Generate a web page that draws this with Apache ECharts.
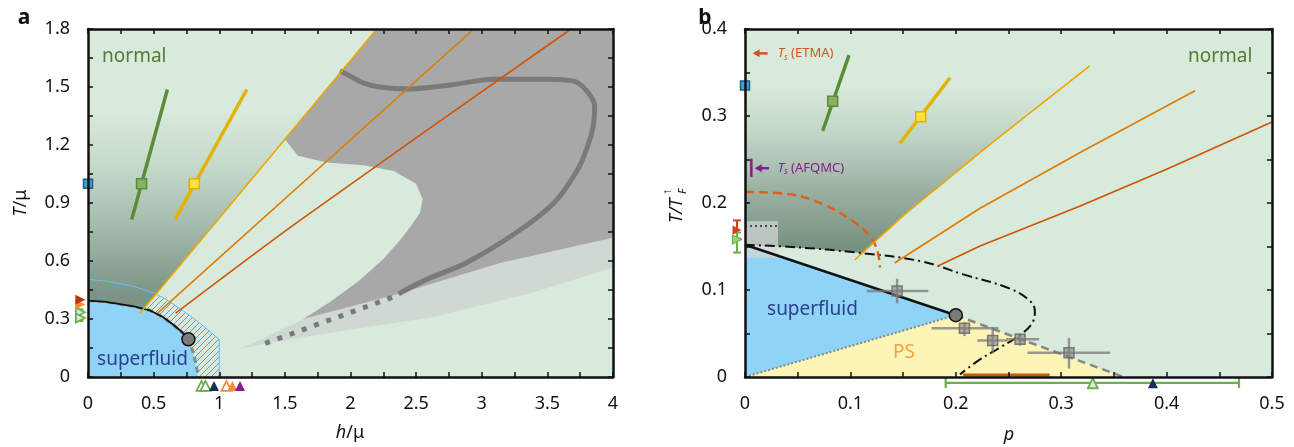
<!DOCTYPE html>
<html><head><meta charset="utf-8">
<script src="https://cdn.jsdelivr.net/npm/echarts@6/dist/echarts.min.js"></script>
<style>html,body{margin:0;padding:0;background:#fff}#c{width:1294px;height:447px}</style>
</head><body><div id="c"></div>
<script>
// ================= Panel a data (h/mu, T/mu) =================
const aXLabels = [0, 0.5, 1, 1.5, 2, 2.5, 3, 3.5, 4];
const aYLabels = [0, 0.3, 0.6, 0.9, 1.2, 1.5, 1.8];
const aGradient = [[0,0.3],[0,1.8],[2.2,1.8],[0.396,0.33]];
const aLightGray = [[1.158,0.147],[1.31,0.19],[1.64,0.30],[2.37,0.43],[3.14,0.59],[4,0.72],[4,0.566],[3.39,0.437],[2.63,0.31],[1.615,0.204]];
const aDarkGray = [[1.5,1.23],[2.2,1.8],[4,1.8],[4,0.72],[3.14,0.59],[2.37,0.43],[1.64,0.30],
  [1.85,0.39],[2.07,0.50],[2.25,0.61],[2.38,0.71],[2.47,0.79],[2.53,0.85],[2.55,0.92],[2.50,1.0],[2.33,1.065],[2.1,1.095],[1.82,1.11],[1.6,1.145]];
const aHatch = [[0,0],[0,0.505],[0.15,0.495],[0.345,0.47],[0.5,0.435],[0.6,0.40],[0.72,0.345],[0.85,0.28],[0.93,0.235],[1.0,0.195],[1.0,0]];
const aSuperfluid = [[0,0],[0,0.395],[0.12,0.39],[0.22,0.38],[0.35,0.365],[0.47,0.345],[0.57,0.31],[0.65,0.27],[0.72,0.23],[0.765,0.195],[0.8,0.13],[0.825,0.06],[0.84,0]];
const aBoundarySolid = [[0,0.395],[0.12,0.39],[0.22,0.38],[0.35,0.365],[0.47,0.345],[0.57,0.31],[0.65,0.27],[0.72,0.23],[0.765,0.195]];
const aCritical = [[0.765,0.195]];
const aThickCurve = [[1.92,1.585],[2.0,1.555],[2.1,1.52],[2.22,1.50],[2.45,1.49],[2.76,1.51],[3.09,1.54],[3.49,1.54],[3.70,1.53],[3.80,1.48],[3.86,1.40],[3.85,1.30],[3.80,1.18],[3.72,1.06],[3.55,0.90],[3.27,0.75],[2.88,0.59],[2.58,0.505],[2.366,0.43]];
const aDottedCurve = [[1.35,0.174],[2.33,0.415]];
const aOrange1 = [[0.396,0.33],[2.2,1.8]];
const aOrange2 = [[0.53,0.33],[2.94,1.8]];
const aOrange3 = [[0.668,0.33],[1.615,0.81],[3.68,1.8]];
const aGreenLine = [[0.333,0.815],[0.605,1.487]];
const aGreenPoint = [[0.408,1.0]];
const aYellowLine = [[0.663,0.815],[1.21,1.487]];
const aYellowPoint = [[0.81,1.0]];
const aBluePoint = [[0,1.0]];
const aLeftRed = [[-0.058,0.40]];
const aLeftOrange = [[-0.058,0.375]];
const aLeftGreen = [[-0.058,0.335],[-0.058,0.305]];
const aLeftGreenErr = [[-0.058,0.32,-0.058,-0.058,0.29,0.35]];
const aBottomGreen = [[0.865,-0.046],[0.895,-0.046]];
const aBottomNavy = [[0.96,-0.046]];
const aBottomOrangeOpen = [[1.055,-0.046]];
const aBottomOrange = [[1.10,-0.046]];
const aBottomPurple = [[1.158,-0.046]];
const aTexts = [[0.107,1.657,'normal','#557a30'],[0.069,0.092,'superfluid','#2c3f8f']];

// ================= Panel b data (p, T/T_F) =================
const bXLabels = [0, 0.1, 0.2, 0.3, 0.4, 0.5];
const bYLabels = [0, 0.1, 0.2, 0.3, 0.4];
const bGradient = [[0,0.152],[0,0.4],[0.37,0.4],[0.327,0.3575],[0.2325,0.2675],[0.1535,0.189],[0.112,0.1425],[0.06,0.148]];
const bSuperfluid = [[0,0],[0,0.152],[0.2,0.071]];
const bPS = [[0,0],[0.2,0.071],[0.359,0]];
const bSolid = [[0,0.152],[0.2,0.071]];
const bDotted = [[0,0],[0.2,0.071]];
const bGrayDashed = [[0.2,0.071],[0.359,0]];
const bCritical = [[0.2,0.071]];
const bDashDot = [[0,0.152],[0.05,0.149],[0.106,0.143],[0.166,0.1333],[0.207,0.118],[0.2514,0.1016],[0.2704,0.0874],[0.275,0.0759],[0.2735,0.0644],[0.264,0.051],[0.242,0.0338],[0.223,0.0203],[0.204,0.003]];
const bOrangeDashed = [[0,0.2127],[0.0427,0.21],[0.074,0.1985],[0.1,0.181],[0.1186,0.162],[0.126,0.143],[0.128,0.126]];
const bGrayBox = [[0,0.137],[0.0313,0.137],[0.0313,0.179],[0,0.179]];
const bBoxDotted = [[0,0.1736],[0.0313,0.1736]];
const bOrange1 = [[0.104,0.1345],[0.1535,0.189],[0.2325,0.2675],[0.327,0.3575]];
const bOrange2 = [[0.142,0.131],[0.223,0.194],[0.321,0.26],[0.427,0.329]];
const bOrange3 = [[0.183,0.1276],[0.223,0.1506],[0.318,0.1966],[0.4,0.2388],[0.5,0.293]];
const bBottomOrange = [[0.207,0.0023],[0.289,0.0023]];
const bGreenLine = [[0.0737,0.2828],[0.0987,0.37]];
const bGreenPoint = [[0.0832,0.317]];
const bYellowLine = [[0.147,0.2686],[0.1945,0.344]];
const bYellowPoint = [[0.1667,0.299]];
const bBluePoint = [[0,0.335]];
// [x, y, xlo, xhi, ylo, yhi]
const bGrayPoints = [
  [0.1443,0.0989,0.1154,0.1739,0.0847,0.113],
  [0.2082,0.056,0.177,0.2405,0.047,0.063],
  [0.235,0.042,0.2204,0.249,0.027,0.057],
  [0.261,0.0434,0.248,0.279,0.036,0.050],
  [0.3074,0.028,0.268,0.3465,0.0097,0.045]
];
const bBottomGreenErr = [[0.33,-0.0068,0.1904,0.4687,-0.0068,-0.0068]];
const bBottomGreen = [[0.33,-0.0072]];
const bBottomNavy = [[0.387,-0.0072]];
const bLeftRed = [[-0.0076,0.169]];
const bLeftRedErr = [[-0.0076,0.169,-0.0076,-0.0076,0.159,0.18]];
const bLeftGreen = [[-0.0076,0.158]];
const bLeftGreenErr = [[-0.0076,0.158,-0.0076,-0.0076,0.143,0.166]];
const bPurpleBar = [[0.006,0.24,0.006,0.006,0.23,0.251]];
// arrows: [xTail, y, xTip]
const bArrowETMA = [[0.0215,0.372,0.0072]];
const bArrowAFQMC = [[0.0228,0.240,0.0092]];
const bTexts = [[0.0209,0.0778,'superfluid','#2c3f8f'],[0.1404,0.0284,'PS','#f5a04a'],[0.4203,0.3686,'normal','#557a30']];
const bTsTexts = [[0.031,0.372,' (ETMA)','#d0581a'],[0.031,0.240,' (AFQMC)','#8b1a8b']];

// ================= helpers =================
const FONT = 'Noto Sans';
const BG = '#d8eadc';

const hatch = document.createElement('canvas');
hatch.width = 6; hatch.height = 6;
(function(){const g = hatch.getContext('2d'); g.strokeStyle = '#4b9fe6'; g.lineWidth = 1;
  g.beginPath(); g.moveTo(0,6); g.lineTo(6,0); g.moveTo(-1,1); g.lineTo(1,-1); g.moveTo(5,7); g.lineTo(7,5); g.stroke();})();

function ax(gi){ return {xAxisIndex: gi*2, yAxisIndex: gi*2}; }

function poly(gi, pts, styleFn, z){
  return Object.assign({type:'custom', z:z, silent:true, clip:true, data:pts,
    renderItem:function(params, api){
      if(params.dataIndex!==0) return null;
      const p = pts.map(d=>api.coord(d));
      return {type:'polygon', shape:{points:p}, style:styleFn(api)};
    }}, ax(gi));
}
function line(gi, pts, color, width, type, z, smooth){
  return Object.assign({type:'line', data:pts, showSymbol:false, symbol:'none', silent:true, z:z||6, smooth:smooth||false,
    lineStyle:{color:color, width:width, type:type||'solid', cap:'butt'}}, ax(gi));
}
function scat(gi, pts, symbol, size, fill, border, bw, rot, z){
  return Object.assign({type:'scatter', data:pts, symbol:symbol, symbolSize:size, symbolRotate:rot||0, silent:true, clip:false, z:z||10,
    itemStyle:{color:fill, borderColor:border, borderWidth:bw||0, opacity:1}}, ax(gi));
}
function err(gi, rows, color, width, cap, z){
  return Object.assign({type:'custom', data:rows, silent:true, clip:false, z:z||9,
    renderItem:function(params, api){
      const x=api.value(0), y=api.value(1), xlo=api.value(2), xhi=api.value(3), ylo=api.value(4), yhi=api.value(5);
      const ch=[]; const st={stroke:color, lineWidth:width};
      if(xhi>xlo){ const a=api.coord([xlo,y]), b=api.coord([xhi,y]);
        ch.push({type:'line', shape:{x1:a[0],y1:a[1],x2:b[0],y2:b[1]}, style:st});
        if(cap){ ch.push({type:'line', shape:{x1:a[0],y1:a[1]-cap,x2:a[0],y2:a[1]+cap}, style:st});
                 ch.push({type:'line', shape:{x1:b[0],y1:b[1]-cap,x2:b[0],y2:b[1]+cap}, style:st}); } }
      if(yhi>ylo){ const a=api.coord([x,ylo]), b=api.coord([x,yhi]);
        ch.push({type:'line', shape:{x1:a[0],y1:a[1],x2:b[0],y2:b[1]}, style:st});
        if(cap){ ch.push({type:'line', shape:{x1:a[0]-cap,y1:a[1],x2:a[0]+cap,y2:a[1]}, style:st});
                 ch.push({type:'line', shape:{x1:b[0]-cap,y1:b[1],x2:b[0]+cap,y2:b[1]}, style:st}); } }
      return {type:'group', children:ch};
    }}, ax(gi));
}
function arrow(gi, rows, color){
  return Object.assign({type:'custom', data:rows, silent:true, clip:false, z:11,
    renderItem:function(params, api){
      const t=api.coord([api.value(0),api.value(1)]), h=api.coord([api.value(2),api.value(1)]);
      return {type:'group', children:[
        {type:'line', shape:{x1:t[0],y1:t[1],x2:h[0]+5,y2:h[1]}, style:{stroke:color,lineWidth:2.5}},
        {type:'polygon', shape:{points:[[h[0],h[1]],[h[0]+7,h[1]-4],[h[0]+7,h[1]+4]]}, style:{fill:color}}]};
    }}, ax(gi));
}
function texts(gi, rows, size){
  return Object.assign({type:'custom', data:rows.map(r=>[r[0],r[1]]), silent:true, clip:false, z:12,
    renderItem:function(params, api){
      const r=rows[params.dataIndex]; const p=api.coord([r[0],r[1]]);
      return {type:'text', x:p[0], y:p[1], style:{text:r[2], fill:r[3], font:size+'px "'+FONT+'"', align:'left', verticalAlign:'middle'}};
    }}, ax(gi));
}
function tsTexts(gi, rows){
  return Object.assign({type:'custom', data:rows.map(r=>[r[0],r[1]]), silent:true, clip:false, z:12,
    renderItem:function(params, api){
      const r=rows[params.dataIndex]; const p=api.coord([r[0],r[1]]);
      return {type:'text', x:p[0], y:p[1], style:{text:'{i|T}{s|s}{n|'+r[2]+'}', fill:r[3], align:'left', verticalAlign:'middle',
        rich:{i:{fontFamily:FONT,fontStyle:'italic',fontSize:13,fill:r[3],lineHeight:16},
              s:{fontFamily:FONT,fontStyle:'italic',fontSize:8,fill:r[3],lineHeight:16,verticalAlign:'bottom'},
              n:{fontFamily:FONT,fontSize:13,fill:r[3],lineHeight:16}}}};
    }}, ax(gi));
}
function fmt(step){ return function(v){ const k=Math.round(v/step); if(Math.abs(k*step-v)>1e-6) return ''; return String(Math.round(v*1000)/1000); }; }

function xAxes(gi, max, minor, major){
  const base={gridIndex:gi, type:'value', min:0, max:max, interval:minor, z:20,
    axisLine:{show:true,onZero:false,lineStyle:{color:'#111',width:2.5}},
    axisTick:{show:true,inside:true,length:5,lineStyle:{color:'#111',width:1.5}},
    splitLine:{show:false}};
  return [Object.assign({}, base, {position:'bottom', axisLabel:{show:true,margin:18,fontSize:18,fontFamily:FONT,color:'#111',formatter:fmt(major),showMinLabel:true,showMaxLabel:true}}),
          Object.assign({}, base, {position:'top', axisLabel:{show:false}})];
}
function yAxes(gi, max, minor, major){
  const base={gridIndex:gi, type:'value', min:0, max:max, interval:minor, z:20,
    axisLine:{show:true,onZero:false,lineStyle:{color:'#111',width:2.5}},
    axisTick:{show:true,inside:true,length:5,lineStyle:{color:'#111',width:1.5}},
    splitLine:{show:false}};
  return [Object.assign({}, base, {position:'left', axisLabel:{show:true,margin:18,fontSize:18,fontFamily:FONT,color:'#111',formatter:fmt(major),showMinLabel:true,showMaxLabel:true}}),
          Object.assign({}, base, {position:'right', axisLabel:{show:false}})];
}

const chart = echarts.init(document.getElementById('c'), null, {renderer:'canvas'});

function gradA(api){
  const p0=api.coord([0,0.42]), p1=api.coord([0,1.38]);
  return {fill:new echarts.graphic.LinearGradient(0,p0[1],0,p1[1],[
    {offset:0,color:'#7a9484'},{offset:0.35,color:'#a2b8aa'},{offset:0.68,color:'#c4d8ca'},{offset:1,color:BG}],true)};
}
function gradB(api){
  const p0=api.coord([0,0.15]), p1=api.coord([0,0.335]);
  return {fill:new echarts.graphic.LinearGradient(0,p0[1],0,p1[1],[
    {offset:0,color:'#789282'},{offset:0.35,color:'#9ab1a2'},{offset:0.7,color:'#c2d6c8'},{offset:1,color:BG}],true)};
}

const series = [
  // panel a
  poly(0, aGradient, gradA, 1),
  poly(0, aLightGray, ()=>({fill:'#cfd8d1'}), 2),
  poly(0, aDarkGray, ()=>({fill:'#a8a8a8'}), 3),
  poly(0, aHatch, ()=>({fill:{image:hatch, repeat:'repeat'}, stroke:'#7ab8f0', lineWidth:1}), 4),
  poly(0, aSuperfluid, ()=>({fill:'#8fd4f6'}), 5),
  line(0, aSuperfluid.slice(1), '#8a8a8a', 3, [6,4], 6),
  line(0, aBoundarySolid, '#111', 1.8, 'solid', 7),
  line(0, aThickCurve, '#7a7a7a', 5, 'solid', 6, 0.3),
  line(0, aDottedCurve, '#7a7a7a', 5, [5,8], 6),
  line(0, aOrange1, '#f0a500', 1.6, 'solid', 7),
  line(0, aOrange2, '#e07b00', 1.6, 'solid', 7),
  line(0, aOrange3, '#d25300', 1.6, 'solid', 7, 0.3),
  line(0, aGreenLine, '#5a8c3a', 3.5, 'solid', 8),
  line(0, aYellowLine, '#e2b400', 3.5, 'solid', 8),
  scat(0, aGreenPoint, 'rect', 10, '#86b466', '#5a8c3a', 1.5),
  scat(0, aYellowPoint, 'rect', 10, '#ffe23a', '#e2b000', 1.5),
  scat(0, aBluePoint, 'rect', 9, '#3aa6d8', '#1d5f85', 1.5),
  scat(0, aCritical, 'circle', 13, '#7a7a7a', '#111', 1.5, 0, 11),
  err(0, aLeftGreenErr, '#6ab04c', 2, 3),
  scat(0, aLeftGreen, 'triangle', 9, '#d8eadc', '#6ab04c', 1.8, -90),
  scat(0, aLeftOrange, 'triangle', 10, '#f58a3a', '#f58a3a', 0, -90),
  scat(0, aLeftRed, 'triangle', 10, '#b8360e', '#b8360e', 0, -90),
  scat(0, aBottomGreen, 'triangle', 10, '#ffffff', '#6ab04c', 1.8),
  scat(0, aBottomNavy, 'triangle', 10, '#1b2a5c', '#1b2a5c', 0),
  scat(0, aBottomOrangeOpen, 'triangle', 10, '#ffffff', '#f58a3a', 1.8),
  scat(0, aBottomOrange, 'triangle', 10, '#f58a3a', '#f58a3a', 0),
  scat(0, aBottomPurple, 'triangle', 10, '#8b1a8b', '#8b1a8b', 0),
  texts(0, aTexts, 19),
  // panel b
  poly(1, bGradient, gradB, 1),
  poly(1, bPS, ()=>({fill:'#fdf5b6'}), 4),
  poly(1, bSuperfluid, ()=>({fill:'#8fd4f6'}), 5),
  poly(1, bGrayBox, ()=>({fill:'rgba(215,215,215,0.7)'}), 6),
  line(1, bBoxDotted, '#222', 1.5, [2,3], 7),
  line(1, bDotted, '#888', 2, [2,2], 6),
  line(1, bGrayDashed, '#888', 2.5, [8,5], 6),
  line(1, bSolid, '#111', 2.5, 'solid', 7),
  line(1, bDashDot, '#111', 2, [10,4,2,4], 7, 0.4),
  line(1, bOrangeDashed, '#e0601a', 2.5, [9,5], 7, 0.4),
  line(1, bOrange1, '#f0a500', 1.6, 'solid', 7),
  line(1, bOrange2, '#e07b00', 1.6, 'solid', 7),
  line(1, bOrange3, '#d25300', 1.6, 'solid', 7),
  line(1, bBottomOrange, '#d25300', 3, 'solid', 7),
  line(1, bGreenLine, '#5a8c3a', 3.5, 'solid', 8),
  line(1, bYellowLine, '#e2b400', 3.5, 'solid', 8),
  scat(1, bGreenPoint, 'rect', 10, '#86b466', '#5a8c3a', 1.5),
  scat(1, bYellowPoint, 'rect', 10, '#ffe23a', '#e2b000', 1.5),
  scat(1, bBluePoint, 'rect', 9, '#3aa6d8', '#1d5f85', 1.5),
  err(1, bGrayPoints, 'rgba(120,120,120,0.75)', 2.5, 0, 8),
  scat(1, bGrayPoints.map(r=>[r[0],r[1]]), 'rect', 10, 'rgba(130,130,130,0.6)', 'rgba(110,110,110,0.9)', 1.5, 0, 9),
  scat(1, bCritical, 'circle', 13, '#7a7a7a', '#111', 1.5, 0, 11),
  err(1, bBottomGreenErr, '#6ab04c', 2.2, 5),
  scat(1, bBottomGreen, 'triangle', 10, '#d8eadc', '#6ab04c', 1.8),
  scat(1, bBottomNavy, 'triangle', 10, '#1b2a5c', '#1b2a5c', 0),
  err(1, bLeftRedErr, '#c8401a', 2, 4),
  err(1, bLeftGreenErr, '#6ab04c', 2, 4),
  scat(1, bLeftRed, 'triangle', 9, '#d8401a', '#d8401a', 0, -90),
  scat(1, bLeftGreen, 'triangle', 9, '#9ed080', '#6ab04c', 1.2, -90),
  err(1, bPurpleBar, '#8b1a8b', 2.5, 0, 11),
  arrow(1, bArrowETMA, '#d0581a'),
  arrow(1, bArrowAFQMC, '#8b1a8b'),
  tsTexts(1, bTsTexts),
  texts(1, bTexts, 19)
];

chart.setOption({
  animation:false,
  grid:[{left:88, top:29, width:525, height:348, show:true, backgroundColor:BG, borderWidth:0, containLabel:false, outerBoundsMode:'none'},
        {left:745, top:29, width:527, height:348, show:true, backgroundColor:BG, borderWidth:0, containLabel:false, outerBoundsMode:'none'}],
  xAxis:[...xAxes(0,4,0.25,0.5), ...xAxes(1,0.5,0.05,0.1)],
  yAxis:[...yAxes(0,1.8,0.15,0.3), ...yAxes(1,0.4,0.05,0.1)],
  series:series,
  graphic:[
    {type:'text', x:24, y:18, style:{text:'a', font:'bold 21px "'+FONT+'"', fill:'#111', align:'center', verticalAlign:'middle'}},
    {type:'text', x:705, y:18, style:{text:'b', font:'bold 21px "'+FONT+'"', fill:'#111', align:'center', verticalAlign:'middle'}},
    {type:'text', x:21, y:203, rotation:Math.PI/2, style:{text:'{i|T}{n|/μ}', align:'center', verticalAlign:'middle',
      rich:{i:{fontFamily:FONT,fontStyle:'italic',fontSize:18,fill:'#111'}, n:{fontFamily:FONT,fontSize:18,fill:'#111'}}}},
    {type:'text', x:350, y:433, style:{text:'{i|h}{n|/μ}', align:'center', verticalAlign:'middle',
      rich:{i:{fontFamily:FONT,fontStyle:'italic',fontSize:18,fill:'#111'}, n:{fontFamily:FONT,fontSize:18,fill:'#111'}}}},
    {type:'text', x:1009, y:435, style:{text:'p', font:'italic 18px "'+FONT+'"', fill:'#111', align:'center', verticalAlign:'middle'}},
    {type:'group', x:677, y:205, rotation:Math.PI/2, children:[
      {type:'text', x:-18, y:0, style:{text:'T/T', font:'italic 18px "'+FONT+'"', fill:'#111', align:'left', verticalAlign:'middle'}},
      {type:'text', x:11, y:6, style:{text:'F', font:'italic 11px "'+FONT+'"', fill:'#111', align:'left', verticalAlign:'middle'}},
      {type:'text', x:10, y:-9, style:{text:'↑', font:'12px "'+FONT+'"', fill:'#111', align:'left', verticalAlign:'middle'}}
    ]}
  ]
});
</script></body></html>
